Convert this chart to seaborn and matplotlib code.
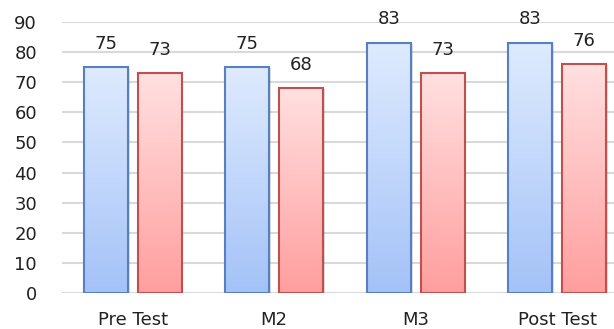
import numpy as np
import pandas as pd
import matplotlib
matplotlib.use("Agg")
import matplotlib.pyplot as plt
import seaborn as sns
from matplotlib.colors import LinearSegmentedColormap

categories = ["Pre Test", "M2", "M3", "Post Test"]
series_names = ["A", "B"]
values_a = [75, 75, 83, 83]
values_b = [73, 68, 73, 76]
y_ticks = [0, 10, 20, 30, 40, 50, 60, 70, 80, 90]

sns.set_theme(style="white")
plt.rcParams["font.family"] = ["DejaVu Sans"]

df = pd.DataFrame({
    "category": categories * 2,
    "series": [series_names[0]] * 4 + [series_names[1]] * 4,
    "value": values_a + values_b,
})

fig = plt.figure(figsize=(6.14, 3.29), dpi=100)
ax = fig.add_axes([62 / 614, 36 / 329, 566 / 614, 271 / 329])

sns.barplot(data=df, x="category", y="value", hue="series", order=categories,
            hue_order=series_names, width=0.76, gap=0.18, ax=ax,
            palette=["#dbe7fd", "#ffdcdc"], legend=False, errorbar=None)

ax.set_xlim(-0.5, 3.5)
ax.set_ylim(0, 90)
ax.set_yticks(y_ticks)
ax.yaxis.grid(True, color="#d9d9d9", linewidth=1.5)
ax.set_axisbelow(True)
for s in ax.spines.values():
    s.set_visible(False)
ax.set_xlabel("")
ax.set_ylabel("")
ax.tick_params(axis="both", length=0, labelsize=13, colors="#222222")
ax.tick_params(axis="x", pad=13)
ax.tick_params(axis="y", pad=18)

grads = {
    0: (LinearSegmentedColormap.from_list("blue", ["#a4c2f8", "#deebfe"]), "#5680c2"),
    1: (LinearSegmentedColormap.from_list("red", ["#ff9e9e", "#ffe0e0"]), "#c0504d"),
}
grad = np.linspace(0, 1, 256).reshape(-1, 1)
n = len(categories)
for i, patch in enumerate(list(ax.patches)):
    cmap, edge = grads[i // n]
    x0, y0 = patch.get_x(), patch.get_y()
    w, h = patch.get_width(), patch.get_height()
    # soft drop shadow
    shadow = plt.Rectangle((x0 + 0.012, y0), w, h - 0.4, facecolor="#000000",
                           alpha=0.12, edgecolor="none", zorder=1.5)
    ax.add_patch(shadow)
    im = ax.imshow(grad, cmap=cmap, origin="lower", aspect="auto",
                   extent=[x0, x0 + w, y0, y0 + h], zorder=2)
    im.set_clip_path(patch)
    patch.set_facecolor("none")
    patch.set_edgecolor(edge)
    patch.set_linewidth(1.5)
    patch.set_zorder(3)
    val = values_a[i % n] if i < n else values_b[i % n]
    ax.annotate(f"{val}", (x0 + w / 2, y0 + h), xytext=(0, 10.5),
                textcoords="offset points", ha="center", va="bottom",
                fontsize=13, color="#222222")

ax.set_xlim(-0.5, 3.5)
ax.set_ylim(0, 90)
fig.savefig("out.png", dpi=100)
